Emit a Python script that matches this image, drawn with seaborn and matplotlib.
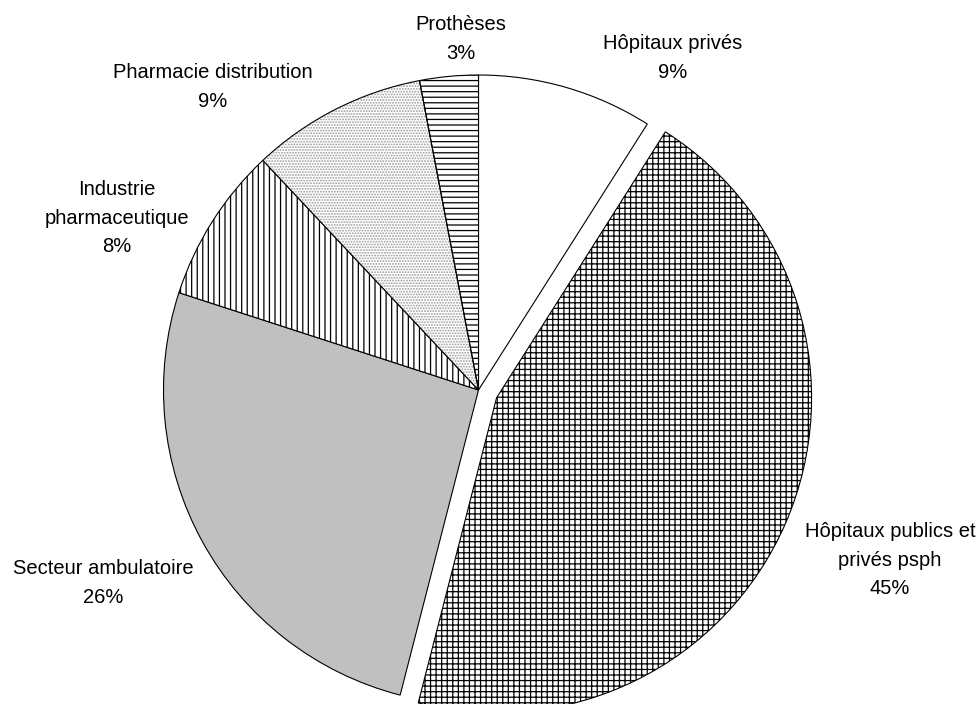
import matplotlib
matplotlib.use("Agg")
import matplotlib.pyplot as plt
import matplotlib.patches as mpatches
import seaborn as sns

# Répartition des dépenses par secteur (en %)
secteurs = [
    "Hôpitaux privés",
    "Hôpitaux publics et\nprivés psph",
    "Secteur ambulatoire",
    "Industrie\npharmaceutique",
    "Pharmacie distribution",
    "Prothèses",
]
parts = [9, 45, 26, 8, 9, 3]

# Style of each wedge
couleurs = ["white", "white", "#C0C0C0", "white", "white", "white"]
hachures = [None, "+++", None, "|||", "......", "---"]
couleurs_hachure = [None, "black", None, "black", "#9a9a9a", "black"]
ecarts = [0, 19.7, 0, 0, 0, 0]  # offset in pixels

# Label anchor points (pixels, from top-left)
pos_labels = [(673, 58), (890, 560), (103, 583), (117, 218), (213, 87), (461, 39)]

sns.set_theme(style="white")
plt.rcParams["font.family"] = ["Liberation Sans", "DejaVu Sans"]
plt.rcParams["hatch.linewidth"] = 0.9

W, H = 977, 704
fig = plt.figure(figsize=(W / 100, H / 100), dpi=100)
ax = fig.add_axes([0, 0, 1, 1])

wedges, _ = ax.pie(
    parts,
    colors=couleurs,
    explode=ecarts,
    startangle=-90,
    counterclock=True,
    center=(478.5, 390),
    radius=315,
    wedgeprops=dict(edgecolor="black", linewidth=0.8),
)
for w, h, hc in zip(wedges, hachures, couleurs_hachure):
    if h:
        w.set_hatch(h)
        if hc != "black":
            # hatch takes the edge colour: draw a separate black outline
            w.set_edgecolor(hc)
            w.set_linewidth(0)
            ax.add_patch(mpatches.Wedge(w.center, w.r, w.theta1, w.theta2,
                                        fill=False, edgecolor="black",
                                        linewidth=0.8))

ax.set_xlim(0, W)
ax.set_ylim(H, 0)
ax.set_aspect("equal", adjustable="datalim")
ax.axis("off")

for nom, p, (x, y) in zip(secteurs, parts, pos_labels):
    ax.text(x, y, f"{nom}\n{p}%", ha="center", va="center",
            multialignment="center", fontsize=14.5, linespacing=1.62,
            color="black")

fig.savefig("out.png", dpi=100, facecolor="white")
